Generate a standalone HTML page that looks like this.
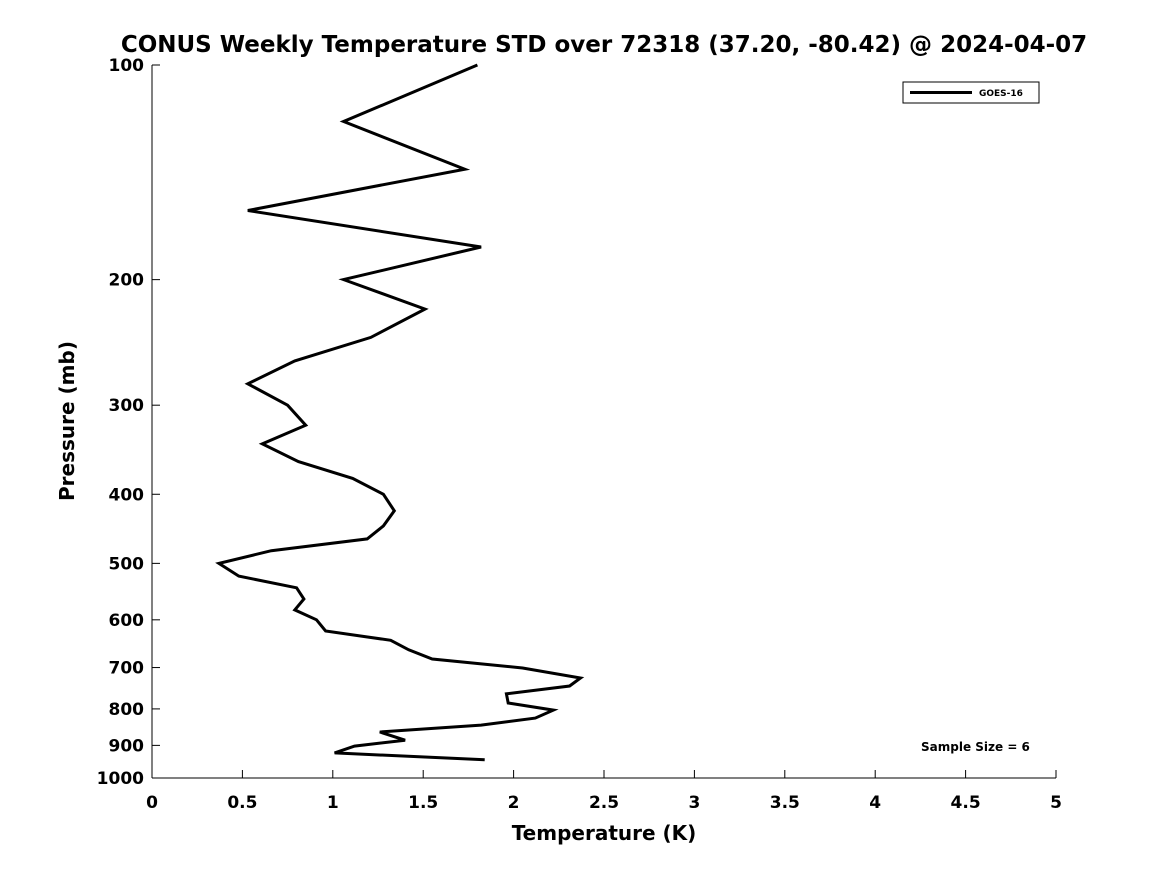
<!DOCTYPE html>
<html><head><meta charset="utf-8"><style>
html,body{margin:0;padding:0;background:#fff;}
svg{display:block;font-family:"DejaVu Sans","Liberation Sans",sans-serif;font-weight:bold;}
</style></head><body>
<svg id="chart" width="1167" height="875" viewBox="0 0 1167 875" xmlns="http://www.w3.org/2000/svg">
<text x="604" y="52" text-anchor="middle" font-size="23">CONUS Weekly Temperature STD over 72318 (37.20, -80.42) @ 2024-04-07</text>
<g id="axes"></g>
<text x="604" y="840" text-anchor="middle" font-size="20">Temperature (K)</text>
<text transform="translate(74,421) rotate(-90)" text-anchor="middle" font-size="20">Pressure (mb)</text>
<g>
<rect x="903" y="82" width="136" height="21" fill="#fff" stroke="#000" stroke-width="1"/>
<line x1="910" y1="92.5" x2="972" y2="92.5" stroke="#000" stroke-width="3"/>
<text x="979" y="96" font-size="9">GOES-16</text>
</g>
<text x="921" y="751" font-size="12">Sample Size = 6</text>
</svg>
<script>
const xTicks=[0,0.5,1,1.5,2,2.5,3,3.5,4,4.5,5];
const xTickLabels=["0","0.5","1","1.5","2","2.5","3","3.5","4","4.5","5"];
const yTicks=[100,200,300,400,500,600,700,800,900,1000];
const yTickLabels=["100","200","300","400","500","600","700","800","900","1000"];
const pressure=[100,120,140,160,180,200,220,241,260,280,300,320,340,360,380,400,422,443,462,480,500,521,541,561,581,600,622,641,661,681,701,724,743,762,785,803,824,843,862,885,902,922,943];
const tempStd=[1.80,1.06,1.73,0.53,1.82,1.06,1.51,1.21,0.79,0.53,0.75,0.85,0.61,0.81,1.11,1.28,1.34,1.28,1.19,0.66,0.37,0.48,0.80,0.84,0.79,0.91,0.96,1.32,1.42,1.55,2.05,2.37,2.31,1.96,1.97,2.22,2.12,1.82,1.26,1.40,1.12,1.01,1.84];
const X0=152,X1=1056,Y0=65,Y1=778;
const xs=v=>X0+(v-0)/(5-0)*(X1-X0);
const ys=p=>Y0+(Math.log10(p)-2)/(3-2)*(Y1-Y0);
const NS="http://www.w3.org/2000/svg";
const svg=document.getElementById('chart');
const g=document.getElementById('axes');
function mk(t,a,parent){const e=document.createElementNS(NS,t);for(const k in a)e.setAttribute(k,a[k]);(parent||g).appendChild(e);return e;}
const xa=mk('line',{x1:X0,y1:Y1,x2:X1,y2:Y1,stroke:'#000','stroke-width':1});


const ya=mk('line',{x1:X0,y1:Y0,x2:X0,y2:Y1,stroke:'#000','stroke-width':1});


xTicks.forEach((v,i)=>{
 const x=xs(v);
 const t=mk('line',{x1:x,y1:Y1,x2:x,y2:Y1-8,stroke:'#000'});
 
 
 const l=mk('text',{x:x,y:808,'text-anchor':'middle','font-size':17});
 
 
 l.textContent=xTickLabels[i];
});
yTicks.forEach((p,i)=>{
 const y=ys(p);
 const t=mk('line',{x1:X0,y1:y,x2:X0+8,y2:y,stroke:'#000'});
 
 
 const l=mk('text',{x:X0-8,y:y+6,'text-anchor':'end','font-size':17});
 
 
 l.textContent=yTickLabels[i];
});
const pts=pressure.map((p,i)=>xs(tempStd[i]).toFixed(1)+','+ys(p).toFixed(1)).join(' ');
const line=mk('polyline',{points:pts,fill:'none',stroke:'#000','stroke-width':3,'stroke-linejoin':'miter'},svg);


</script>
</body></html>
